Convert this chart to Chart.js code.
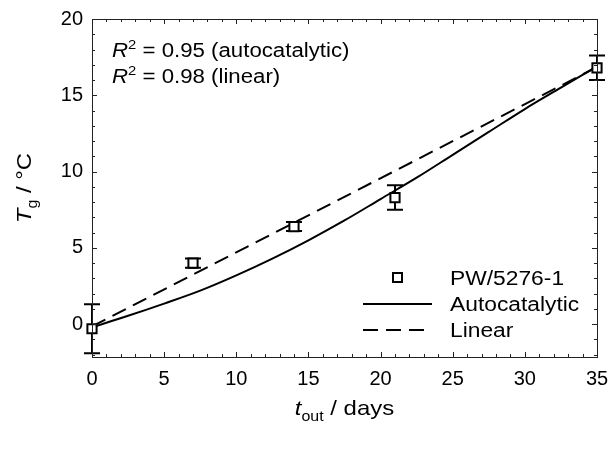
<!DOCTYPE html>
<html>
<head>
<meta charset="utf-8">
<script src="https://cdn.jsdelivr.net/npm/chart.js@4.4.1/dist/chart.umd.min.js"></script>
<style>
  html, body { margin: 0; padding: 0; background: #ffffff; }
  #wrap { width: 612px; height: 451px; }
</style>
</head>
<body>
<div id="wrap"><canvas id="c" width="612" height="451"></canvas></div>
<script>
// ---- data ----
const days = [0, 7, 14, 21, 35];
const tgValues = [-0.3, 4.0, 6.4, 8.3, 16.8];
const tgErrors = [1.6, 0.3, 0.3, 0.8, 0.8];

const autoX = [0, 2.5, 5, 7.5, 10, 12.5, 15, 17.5, 20, 22.5, 25, 27.5, 30, 32.5, 35];
const autoY = [-0.2, 0.55, 1.35, 2.2, 3.2, 4.3, 5.5, 6.8, 8.2, 9.6, 11.1, 12.6, 14.1, 15.5, 16.9];

const linX = [0, 35];
const linY = [-0.15, 16.85];

const xTicks = [0, 5, 10, 15, 20, 25, 30, 35];
const yTicks = [0, 5, 10, 15, 20];

const seriesNames = ['PW/5276-1', 'Autocatalytic', 'Linear'];
const r2Lines = [['0.95', 'autocatalytic'], ['0.98', 'linear']];

const FONT = '"Liberation Sans", Arial, sans-serif';
const SX = 1.14; // the reference text is slightly wider than Arial

function pts(xs, ys) { return xs.map((x, i) => ({ x: x, y: ys[i] })); }

// draw a sequence of [text, font, dy] parts, horizontally stretched, starting at x (or centred)
function drawParts(ctx, parts, x, y, centred) {
  let total = 0;
  parts.forEach(p => { ctx.font = p[1]; total += ctx.measureText(p[0]).width; });
  ctx.save();
  ctx.translate(x, y);
  ctx.scale(SX, 1);
  let cx = centred ? -total / 2 : 0;
  parts.forEach(p => {
    ctx.font = p[1];
    ctx.fillText(p[0], cx, p[2] || 0);
    cx += ctx.measureText(p[0]).width;
  });
  ctx.restore();
}

const decorPlugin = {
  id: 'decor',
  beforeDatasetsDraw(chart) {
    const ctx = chart.ctx;
    const xs = chart.scales.x, ys = chart.scales.y;
    ctx.save();
    ctx.strokeStyle = '#000';
    ctx.lineWidth = 2;
    days.forEach((d, i) => {
      const px = xs.getPixelForValue(d);
      const top = ys.getPixelForValue(tgValues[i] + tgErrors[i]);
      const bot = ys.getPixelForValue(tgValues[i] - tgErrors[i]);
      ctx.beginPath();
      ctx.moveTo(px, top); ctx.lineTo(px, bot);
      ctx.moveTo(px - 8, top); ctx.lineTo(px + 8, top);
      ctx.moveTo(px - 8, bot); ctx.lineTo(px + 8, bot);
      ctx.stroke();
    });
    ctx.restore();
  },
  afterDraw(chart) {
    const ctx = chart.ctx;
    const a = chart.chartArea;
    const xs = chart.scales.x, ys = chart.scales.y;
    ctx.save();
    // frame
    ctx.strokeStyle = '#222';
    ctx.lineWidth = 1;
    ctx.strokeRect(Math.round(a.left) + 0.5, Math.round(a.top) + 0.5,
                   Math.round(a.right - a.left), Math.round(a.bottom - a.top));
    // inward ticks
    ctx.beginPath();
    for (let v = 0; v <= 35; v += 1) {
      const px = Math.round(xs.getPixelForValue(v)) + 0.5;
      const len = (v % 5 === 0) ? 5 : 3;
      ctx.moveTo(px, a.bottom); ctx.lineTo(px, a.bottom - len);
      ctx.moveTo(px, a.top); ctx.lineTo(px, a.top + len);
    }
    for (let v = -2; v <= 20; v += 1) {
      const py = Math.round(ys.getPixelForValue(v)) + 0.5;
      const len = (v % 5 === 0) ? 5 : 3;
      ctx.moveTo(a.left, py); ctx.lineTo(a.left + len, py);
      ctx.moveTo(a.right, py); ctx.lineTo(a.right - len, py);
    }
    ctx.stroke();

    ctx.fillStyle = '#000';
    ctx.textBaseline = 'alphabetic';
    // R^2 annotation
    const r2Base = [57, 83];
    r2Lines.forEach((ln, i) => {
      drawParts(ctx, [
        ['R', 'italic 19.5px ' + FONT, 0],
        ['2', '13px ' + FONT, -8],
        [' = ' + ln[0] + ' (' + ln[1] + ')', '19.5px ' + FONT, 0]
      ], 112, r2Base[i], false);
    });

    // legend
    const lf = '20px ' + FONT;
    drawParts(ctx, [[seriesNames[0], lf, 0]], 450, 285, false);
    drawParts(ctx, [[seriesNames[1], lf, 0]], 450, 311, false);
    drawParts(ctx, [[seriesNames[2], lf, 0]], 450, 337, false);
    ctx.lineWidth = 2;
    ctx.strokeStyle = '#000';
    ctx.fillStyle = '#fff';
    ctx.fillRect(393, 273, 9, 9);
    ctx.strokeRect(393, 273, 9, 9);
    ctx.beginPath();
    ctx.moveTo(363, 304); ctx.lineTo(432, 304);
    ctx.stroke();
    ctx.setLineDash([15, 8]);
    ctx.beginPath();
    ctx.moveTo(363, 330); ctx.lineTo(432, 330);
    ctx.stroke();
    ctx.setLineDash([]);

    // x axis title: t_out / days
    ctx.fillStyle = '#000';
    drawParts(ctx, [
      ['t', 'italic 21px ' + FONT, 0],
      ['out', '14px ' + FONT, 6],
      [' / days', '21px ' + FONT, 0]
    ], (a.left + a.right) / 2, 415, true);

    // y axis title: T_g / °C
    ctx.save();
    ctx.translate(31, (a.top + a.bottom) / 2);
    ctx.rotate(-Math.PI / 2);
    drawParts(ctx, [
      ['T', 'italic 21px ' + FONT, 0],
      ['g', '14px ' + FONT, 6],
      [' / \u00B0C', '21px ' + FONT, 0]
    ], 0, 0, true);
    ctx.restore();
    ctx.restore();
  }
};

new Chart(document.getElementById('c'), {
  type: 'scatter',
  data: {
    datasets: [
      {
        label: seriesNames[2],
        data: pts(linX, linY),
        showLine: true,
        borderColor: '#000',
        borderWidth: 2,
        borderDash: [15, 8],
        pointRadius: 0,
        fill: false,
        order: 3
      },
      {
        label: seriesNames[1],
        data: pts(autoX, autoY),
        showLine: true,
        borderColor: '#000',
        borderWidth: 2,
        pointRadius: 0,
        cubicInterpolationMode: 'monotone',
        fill: false,
        order: 2
      },
      {
        label: seriesNames[0],
        data: pts(days, tgValues),
        showLine: false,
        pointStyle: 'rect',
        pointRadius: 6.5,
        borderWidth: 2,
        borderColor: '#000',
        backgroundColor: '#fff',
        clip: false,
        order: 1
      }
    ]
  },
  options: {
    responsive: false,
    animation: false,
    devicePixelRatio: 1,
    layout: { padding: { top: 19, right: 15, left: 0, bottom: 0 } },
    plugins: { legend: { display: false }, tooltip: { enabled: false } },
    scales: {
      x: {
        type: 'linear',
        min: 0, max: 35,
        afterBuildTicks: s => { s.ticks = xTicks.map(v => ({ value: v })); },
        afterFit: s => { s.height = 94; s.paddingLeft = 0; s.paddingRight = 0; },
        grid: { display: false, drawTicks: false },
        border: { display: false },
        ticks: { color: '#000', font: { family: FONT, size: 20 }, padding: 10, maxRotation: 0 }
      },
      y: {
        type: 'linear',
        min: -2.15, max: 20,
        afterBuildTicks: s => { s.ticks = yTicks.map(v => ({ value: v })); },
        afterFit: s => { s.width = 92; s.paddingTop = 0; s.paddingBottom = 0; },
        grid: { display: false, drawTicks: false },
        border: { display: false },
        ticks: { color: '#000', font: { family: FONT, size: 20 }, padding: 9 }
      }
    }
  },
  plugins: [decorPlugin]
});
</script>
</body>
</html>
